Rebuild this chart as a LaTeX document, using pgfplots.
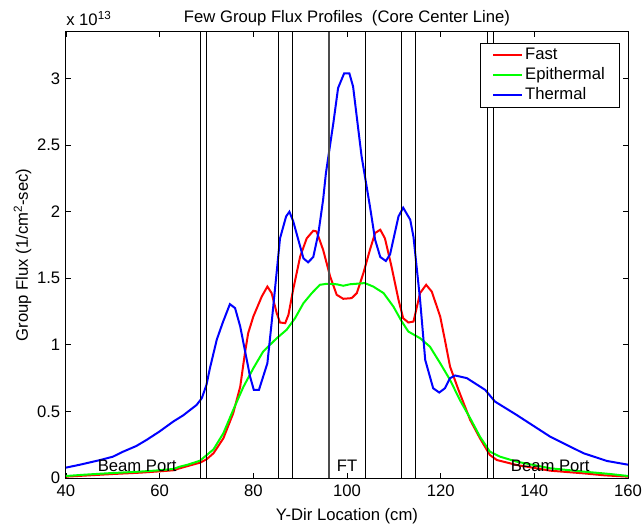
\documentclass[border=0pt]{standalone}
\usepackage{fontspec}
\setmainfont{Liberation Sans}
\usepackage{pgfplots}
\pgfplotsset{compat=1.18}
\begin{document}
\fontsize{12.5}{15}\selectfont
\begin{tikzpicture}
\begin{axis}[
  name=ax,
  scale only axis,
  width=421.5pt, height=334.5pt,
  xmin=40, xmax=160, ymin=0, ymax=3.35,
  xtick={40,60,...,160},
  ytick={0,0.5,1,1.5,2,2.5,3},
  yticklabels={0,0.5,1,1.5,2,2.5,3},
  tick align=inside,
  major tick length=4pt,
  tick style={black, line width=0.6pt},
  axis line style={black, line width=0.75pt},
  /pgf/number format/assume math mode=true,
  xticklabel style={yshift=-1pt},
  title={Few Group Flux Profiles\ \ (Core Center Line)},
  title style={at={(axis description cs:0.5,1)}, anchor=center, yshift=4pt},
  xlabel={Y-Dir Location (cm)},
  ylabel={Group Flux (1/cm\textsuperscript{2}-sec)},
  xlabel style={at={(axis description cs:0.5,0)}, anchor=center, yshift=-29pt},
  ylabel style={at={(axis description cs:-0.0773,0.5)}, anchor=center},
  legend style={at={(0.9858,0.976)}, anchor=north east, draw=black, line width=0.75pt,
    legend cell align=left, inner xsep=9pt, inner ysep=1.5pt, row sep=0.3pt,
    /tikz/every even column/.append style={column sep=3pt}},
  legend image code/.code={\draw[#1] (0cm,0cm) -- (0.74cm,0cm);},
  legend image post style={line width=1.5pt},
  clip=false,
]
\addplot[red, line width=1.5pt] coordinates {
(40,0.01) (45,0.02) (50,0.03) (55.8,0.04) (60,0.05) (62.9,0.058) (64.3,0.073) (66,0.09) (68.6,0.115) (70,0.14) (71.5,0.186) (73.6,0.298) (75.7,0.486) (77.2,0.686) (78.2,0.937) (78.9,1.088) (80.0,1.213) (81.8,1.363) (83.0,1.438) (83.9,1.389) (85.0,1.238) (85.7,1.168) (86.8,1.163) (87.5,1.226) (88.5,1.414) (90.0,1.664) (91.4,1.80) (92.8,1.857) (93.5,1.852) (94.9,1.714) (96.4,1.514) (97.8,1.376) (99.2,1.346) (101.0,1.351) (102.1,1.389) (103.5,1.539) (104.9,1.714) (106.0,1.84) (107.1,1.865) (108.1,1.80) (109.5,1.589) (111.0,1.338) (112.0,1.20) (113.1,1.168) (114.2,1.175) (115.6,1.389) (116.9,1.451) (118.1,1.40) (119.9,1.213) (120.9,1.038) (122.0,0.837) (123.8,0.662) (126.3,0.436) (128.4,0.298) (130.5,0.173) (132.0,0.135) (136.2,0.098) (143.4,0.055) (150.5,0.035) (155,0.02) (160,0.01)
};
\addlegendentry{Fast}
\addplot[green, line width=1.5pt] coordinates {
(40,0.015) (44,0.025) (48.7,0.035) (55.8,0.048) (60,0.058) (62.9,0.068) (64.3,0.085) (66,0.1) (68.6,0.13) (71.5,0.215) (73.6,0.336) (75.7,0.511) (77.9,0.686) (80.0,0.824) (82.1,0.95) (85.0,1.05) (87.1,1.113) (88.9,1.20) (90.7,1.313) (92.5,1.389) (94.2,1.451) (95.7,1.459) (97.8,1.455) (99.2,1.444) (100.6,1.455) (103.8,1.464) (105.6,1.438) (107.8,1.389) (109.9,1.288) (111.7,1.175) (113.1,1.10) (115.6,1.05) (117.7,0.987) (119.9,0.862) (122.0,0.737) (124.1,0.586) (126.3,0.449) (128.4,0.31) (130.5,0.198) (132.7,0.16) (136.2,0.123) (143.4,0.073) (150.5,0.048) (156.2,0.03) (160,0.015)
};
\addlegendentry{Epithermal}
\addplot[blue, line width=1.5pt] coordinates {
(40,0.078) (43,0.10) (47.3,0.135) (50,0.16) (52.2,0.198) (55,0.24) (57.2,0.286) (60,0.35) (62.9,0.424) (65,0.47) (67.9,0.549) (69.0,0.60) (70.0,0.70) (70.7,0.82) (72.2,1.04) (73.5,1.17) (75.0,1.306) (76.1,1.276) (77.2,1.138) (79.3,0.762) (80.1,0.662) (81.2,0.662) (83.0,0.862) (83.9,1.163) (85.7,1.80) (87.0,1.965) (87.7,2.0) (88.5,1.93) (90.7,1.65) (91.7,1.62) (92.8,1.66) (93.9,1.84) (94.9,2.09) (95.5,2.29) (97.1,2.67) (98.1,2.93) (99.4,3.04) (100.5,3.04) (101.3,2.94) (103.1,2.42) (104.9,2.04) (106.0,1.79) (107.1,1.66) (108.3,1.63) (109.2,1.68) (111.0,1.965) (112.0,2.03) (113.5,1.94) (114.2,1.81) (115.6,1.34) (116.7,0.887) (118.4,0.674) (119.7,0.642) (120.9,0.674) (122.0,0.75) (123.1,0.77) (125.6,0.75) (129.5,0.662) (131.6,0.574) (136.2,0.474) (143.4,0.31) (150.5,0.186) (155.5,0.128) (160,0.10)
};
\addlegendentry{Thermal}
\addplot[black, line width=0.75pt, forget plot] coordinates {(68.7,0) (68.7,3.35)};
\addplot[black, line width=0.75pt, forget plot] coordinates {(70.0,0) (70.0,3.35)};
\addplot[black, line width=0.75pt, forget plot] coordinates {(85.4,0) (85.4,3.35)};
\addplot[black, line width=0.75pt, forget plot] coordinates {(88.4,0) (88.4,3.35)};
\addplot[black!70, line width=1.1pt, forget plot] coordinates {(96.2,0) (96.2,3.35)};
\addplot[black, line width=0.75pt, forget plot] coordinates {(103.9,0) (103.9,3.35)};
\addplot[black, line width=0.75pt, forget plot] coordinates {(111.6,0) (111.6,3.35)};
\addplot[black, line width=0.75pt, forget plot] coordinates {(114.6,0) (114.6,3.35)};
\addplot[black, line width=0.75pt, forget plot] coordinates {(130.0,0) (130.0,3.35)};
\addplot[black, line width=0.75pt, forget plot] coordinates {(131.3,0) (131.3,3.35)};
\node at (axis cs:55.2,0.09) {Beam Port};
\node at (axis cs:100,0.09) {FT};
\node at (axis cs:143.4,0.09) {Beam Port};
\node[anchor=base west, inner sep=0pt] at ([yshift=5pt]rel axis cs:0,1) {x 10\textsuperscript{13}};
\end{axis}
\pgfresetboundingbox
\path ([xshift=-49.5pt,yshift=-37.5pt]ax.south west) rectangle ([xshift=10.5pt,yshift=24pt]ax.north east);
\end{tikzpicture}
\end{document}
